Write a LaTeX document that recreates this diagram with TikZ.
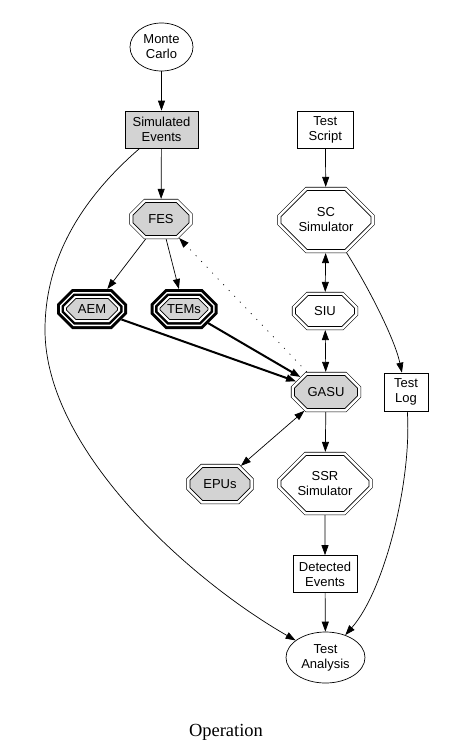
\documentclass[tikz,border=0pt]{standalone}
\usepackage{fontspec}
\setmainfont{Liberation Sans}
\newfontfamily\capfont{Liberation Serif}
\usetikzlibrary{shapes.geometric, shapes.misc, arrows.meta}
\definecolor{fillgray}{RGB}{211,211,211}

\begin{document}
\begin{tikzpicture}[x=1pt, y=-1pt, line width=0.7pt, >={Triangle[length=10pt, width=7pt]},
  every node/.style={font=\fontsize{13}{15}\selectfont, align=center, inner sep=0pt},
  box/.style={draw, rectangle, minimum height=37pt},
  oval/.style={draw, ellipse},
  octa/.style 2 args={chamfered rectangle, chamfered rectangle xsep=#1, chamfered rectangle ysep=#2},
  ring/.style 2 args={octa={#1}{#2}, preaction={draw, line width=7.2pt}, preaction={draw=white, line width=6pt}, draw, outer sep=3.6pt},
  heavy/.style 2 args={octa={#1}{#2}, preaction={draw, line width=19pt}, preaction={draw=white, line width=13pt},
    preaction={draw, line width=10pt}, preaction={draw=white, line width=5pt}, draw, outer sep=9.5pt}]
  \useasboundingbox (0,0) rectangle (448,752);

  % left column
  \node[oval, minimum width=63pt, minimum height=48pt] (mc) at (161.5,47) {Monte\\Carlo};
  \node[box, fill=fillgray, minimum width=73pt] (sim) at (161.5,129.5) {Simulated\\Events};
  \node[ring={11pt}{8pt}, fill=fillgray, minimum width=56pt, minimum height=33pt] (fes) at (161,219) {FES};
  \node[heavy={10pt}{5pt}, fill=fillgray, minimum width=51pt, minimum height=21pt] (aem) at (92,309) {AEM};
  \node[heavy={10pt}{5pt}, fill=fillgray, minimum width=48pt, minimum height=21pt] (tems) at (184,309) {TEMs};
  \node[ring={11pt}{8pt}, fill=fillgray, minimum width=60pt, minimum height=33pt] (epus) at (220,484) {EPUs};

  % right column
  \node[box, minimum width=56pt] (script) at (325.3,129.5) {Test\\Script};
  \node[ring={17pt}{14pt}, fill=white, minimum width=90pt, minimum height=59pt] (scsim) at (326,220) {SC\\Simulator};
  \node[ring={11pt}{8pt}, fill=white, minimum width=59pt, minimum height=31pt] (siu) at (325,311) {SIU};
  \node[ring={11pt}{8pt}, fill=fillgray, minimum width=63pt, minimum height=33pt] (gasu) at (326,392) {GASU};
  \node[box, minimum width=44pt, minimum height=38pt] (log) at (406,392) {Test\\Log};
  \node[ring={17pt}{13pt}, fill=white, minimum width=88pt, minimum height=56pt] (ssr) at (325,483.5) {SSR\\Simulator};
  \node[box, minimum width=64pt] (det) at (325,574) {Detected\\Events};
  \node[oval, minimum width=79pt, minimum height=51pt] (ana) at (325.5,657.5) {Test\\Analysis};

  \node[font=\capfont\fontsize{18.5}{20}\selectfont, anchor=base] (cap) at (226,736) {Operation};

  % connectors
  \draw[->] (mc) -- (sim);
  \draw[->] (sim) -- (fes);
  \draw[->] (fes) -- (aem);
  \draw[->] (fes) -- (tems);
  \draw[->, line width=2pt] (aem) -- (gasu);
  \draw[->, line width=2pt] (tems) -- (gasu);
  \draw[->, dash pattern=on 1pt off 7pt] (gasu) -- (fes);
  \draw[->] (script) -- (scsim);
  \draw[<->] (scsim) -- (siu);
  \draw[<->] (siu) -- (gasu);
  \draw[<->] (gasu) -- (epus);
  \draw[->] (gasu) -- (ssr);
  \draw[->] (ssr) -- (det);
  \draw[->] (det) -- (ana);
  \draw[->] (scsim) .. controls (370,290) and (395,340) .. (log);
  \draw[->] (log) .. controls (412,480) and (385,590) .. (ana);
  \draw[->] (sim) .. controls (80,200) and (45,260) .. (45,330)
    .. controls (45,450) and (190,580) .. (ana);
\end{tikzpicture}
\end{document}
